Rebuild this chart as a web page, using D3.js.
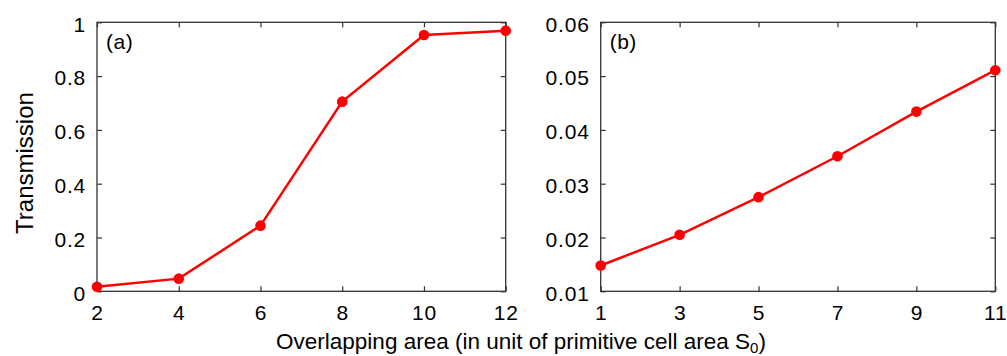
<!DOCTYPE html>
<html><head><meta charset="utf-8">
<script src="https://cdn.jsdelivr.net/npm/d3@7"></script>
<style>
body{margin:0;background:#fff;}
text{font-family:"Liberation Sans",Arial,Helvetica,sans-serif;fill:#000;}
</style></head>
<body>
<svg id="c" width="1007" height="356"></svg>
<script>
const xA = [2, 4, 6, 8, 10, 12];
const yA = [0.017, 0.047, 0.244, 0.705, 0.953, 0.969];
const xB = [1, 3, 5, 7, 9, 11];
const yB = [0.0148, 0.0205, 0.0275, 0.0351, 0.0434, 0.0511];
const xTicksA = [2, 4, 6, 8, 10, 12];
const yTicksA = [0, 0.2, 0.4, 0.6, 0.8, 1];
const xTicksB = [1, 3, 5, 7, 9, 11];
const yTicksB = [0.01, 0.02, 0.03, 0.04, 0.05, 0.06];
const yLabelsA = ["0", "0.2", "0.4", "0.6", "0.8", "1"];

const svg = d3.select("#c");
const plotTop = 22.3, plotBottom = 291.3;

function panel(left, right, xd, yd, xs, ys, xt, yt, ytf, label) {
  const x = d3.scaleLinear().domain(xd).range([left, right]);
  const y = d3.scaleLinear().domain(yd).range([plotBottom, plotTop]);
  const g = svg.append("g");
  const tl = 5;
  const style = a => a.call(s => s.select(".domain").remove())
      .call(s => s.selectAll("line").attr("stroke", "#333").attr("stroke-width", 1.2))
      .call(s => s.selectAll("text").style("font-size", "21px").style("letter-spacing", "0.8px").attr("fill", "#000"));
  g.append("g").attr("transform", `translate(0,${plotBottom})`)
    .call(d3.axisBottom(x).tickValues(xt).tickSizeInner(-tl).tickSizeOuter(0).tickPadding(14).tickFormat(d3.format("d")))
    .call(style);
  g.append("g").attr("transform", `translate(0,${plotTop})`)
    .call(d3.axisTop(x).tickValues(xt).tickSizeInner(-tl).tickSizeOuter(0).tickFormat(""))
    .call(style);
  const ly = g.append("g").attr("transform", `translate(${left},0)`)
    .call(d3.axisLeft(y).tickValues(yt).tickSizeInner(-tl).tickSizeOuter(0).tickPadding(11).tickFormat((d, i) => ytf[i]))
    .call(style);
  ly.selectAll("text").attr("dy", "0.42em");
  g.append("g").attr("transform", `translate(${right},0)`)
    .call(d3.axisRight(y).tickValues(yt).tickSizeInner(-tl).tickSizeOuter(0).tickFormat(""))
    .call(style);
  g.append("rect").attr("x", left).attr("y", plotTop).attr("width", right - left).attr("height", plotBottom - plotTop)
    .attr("fill", "none").attr("stroke", "#333").attr("stroke-width", 1.3);
  const pts = xs.map((v, i) => [v, ys[i]]);
  g.append("path").datum(pts)
    .attr("d", d3.line().x(d => x(d[0])).y(d => y(d[1])))
    .attr("fill", "none").attr("stroke", "#ff0000").attr("stroke-width", 2.5);
  g.selectAll("circle").data(pts).join("circle")
    .attr("cx", d => x(d[0])).attr("cy", d => y(d[1])).attr("r", 5.3).attr("fill", "#ff0000");
  g.append("text").attr("x", left + 9).attr("y", plotTop + 26.5).style("font-size", "21px").style("letter-spacing", "0.5px").text(label);
}

panel(97, 505.7, [2, 12], [0, 1], xA, yA, xTicksA, yTicksA, yLabelsA, "(a)");
panel(600.7, 995.3, [1, 11], [0.01, 0.06], xB, yB, xTicksB, yTicksB, yTicksB.map(d3.format(".2f")), "(b)");

svg.append("text").attr("transform", "translate(33,163) rotate(-90)").attr("text-anchor", "middle")
  .style("font-size", "24px").text("Transmission");

const xl = svg.append("text").attr("x", 521).attr("y", 349).attr("text-anchor", "middle").style("font-size", "22.5px");
xl.append("tspan").text("Overlapping area (in unit of primitive cell area S");
xl.append("tspan").attr("dy", 3.5).style("font-size", "15px").text("0");
xl.append("tspan").attr("dy", -3.5).text(")");
</script>
</body></html>
